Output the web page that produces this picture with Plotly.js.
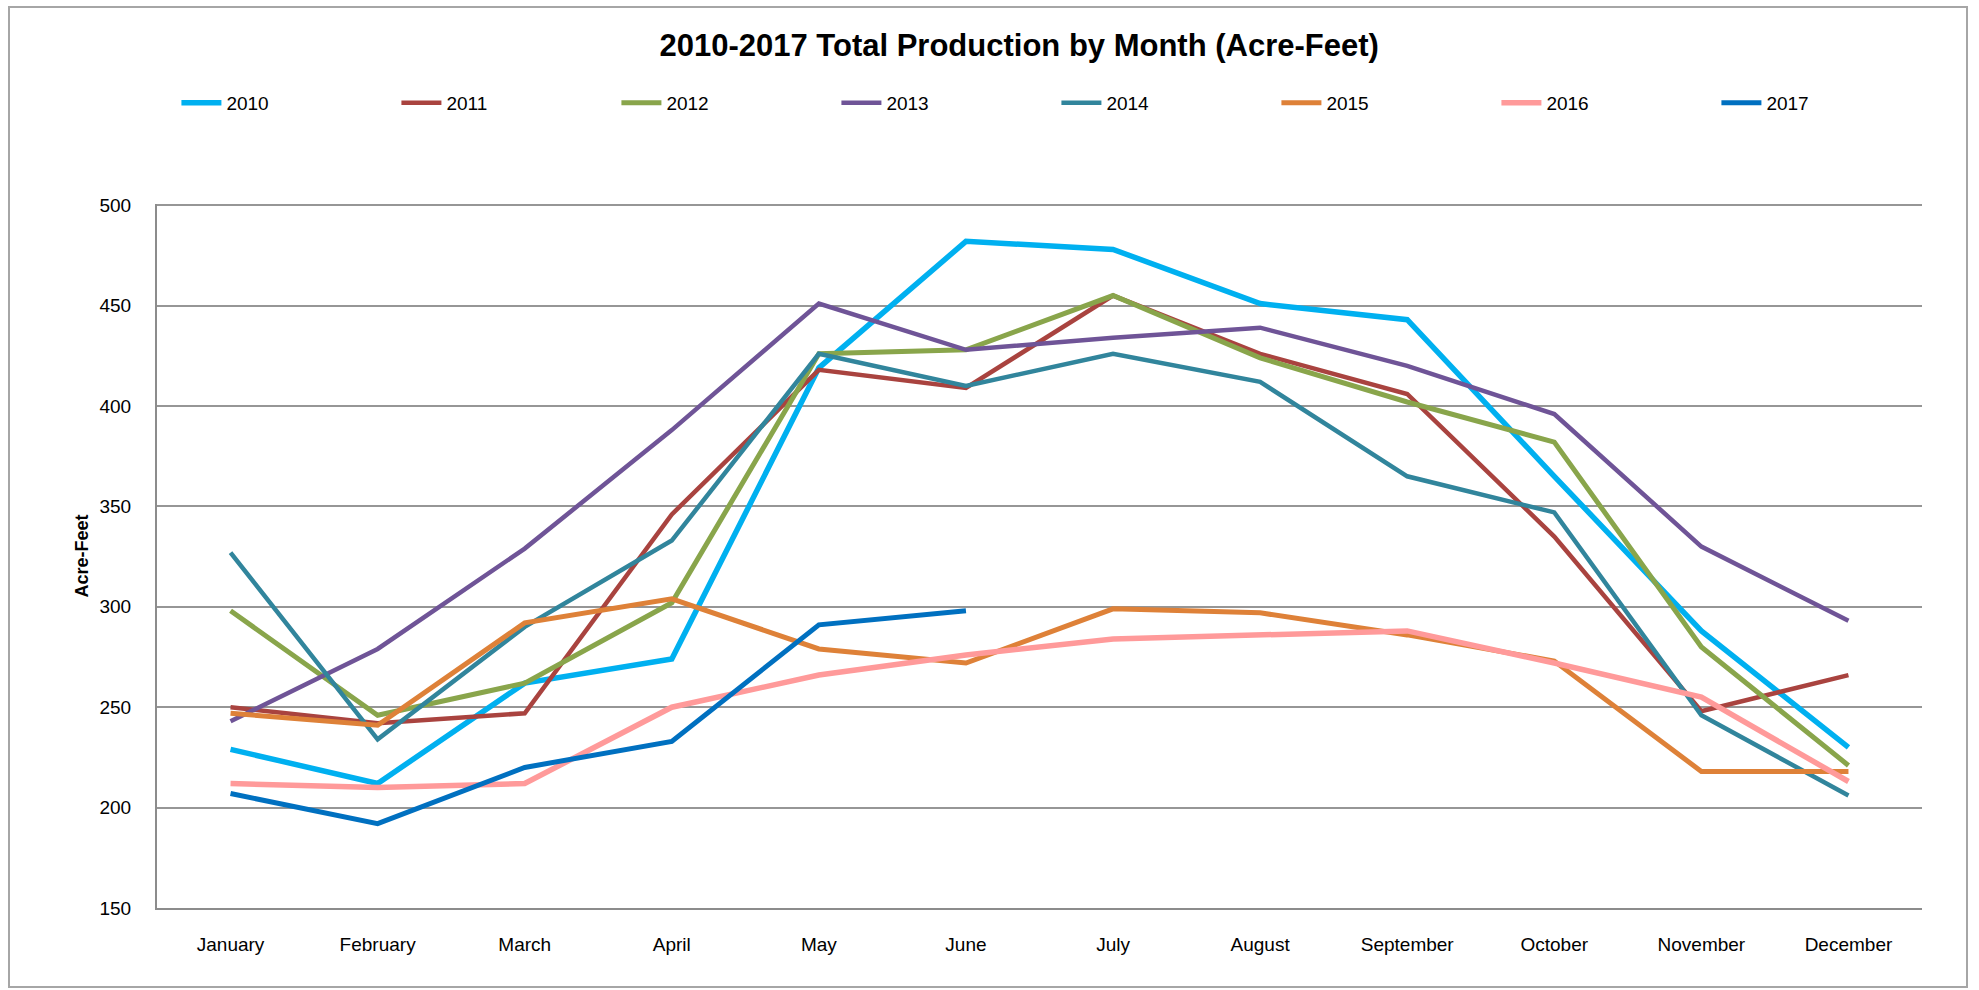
<!DOCTYPE html>
<html>
<head>
<meta charset="utf-8">
<script src="https://cdn.plot.ly/plotly-3.0.1.min.js"></script>
<style>
  body { margin: 0; background: #fff; }
  #chart { width: 1979px; height: 990px; }
  #frame { position: absolute; left: 8px; top: 6px; width: 1956px; height: 978px;
           border: 2px solid #a6a6a6; pointer-events: none; }
</style>
</head>
<body>
<div id="chart"></div>
<div id="frame"></div>
<script>
let months = ["January","February","March","April","May","June","July","August","September","October","November","December"];

let years = ["2010","2011","2012","2013","2014","2015","2016","2017"];
let colors = ["#00B0F0","#A9433F","#89A54B","#6F5497","#31859C","#DE8138","#FF9A9A","#0070C0"];
let widths = [5.5, 4.5, 5, 4.5, 4.5, 5, 5.5, 5];

let y2010 = [229, 212, 262, 274, 419, 482, 478, 451, 443, 365, 288, 230];
let y2011 = [250, 242, 247, 346, 418, 409, 455, 426, 406, 335, 248, 266];
let y2012 = [298, 246, 262, 302, 426, 428, 455, 424, 402, 382, 280, 221];
let y2013 = [243, 279, 329, 388, 451, 428, 434, 439, 420, 396, 330, 293];
let y2014 = [327, 234, 290, 333, 426, 410, 426, 412, 365, 347, 246, 206];
let y2015 = [247, 241, 292, 304, 279, 272, 299, 297, 286, 273, 218, 218];
let y2016 = [212, 210, 212, 250, 266, 276, 284, 286, 288, 272, 255, 213];
let y2017 = [207, 192, 220, 233, 291, 298];

let series = [y2010, y2011, y2012, y2013, y2014, y2015, y2016, y2017];

let traces = series.map(function(vals, i){
  return {
    x: months.slice(0, vals.length),
    y: vals,
    name: years[i],
    type: 'scatter',
    mode: 'lines',
    line: {color: colors[i], width: widths[i]}
  };
});

let layout = {
  width: 1979,
  height: 990,
  margin: {l: 157, r: 57, t: 204, b: 82},
  paper_bgcolor: '#fff',
  plot_bgcolor: '#fff',
  font: {family: 'Liberation Sans, Arial, sans-serif', color: '#000', size: 19},
  title: {
    text: '<b>2010-2017 Total Production by Month (Acre-Feet)</b>',
    font: {size: 31, color: '#000'},
    x: 0.515, xref: 'container', xanchor: 'center',
    y: 1 - 45/990, yref: 'container', yanchor: 'middle'
  },
  showlegend: true,
  legend: {
    orientation: 'h',
    x: 0.011, xanchor: 'left',
    y: 1 + (204 - 103)/704, yanchor: 'middle',
    entrywidth: 165, entrywidthmode: 'pixels',
    font: {size: 19},
    itemwidth: 40
  },
  xaxis: {
    type: 'category',
    range: [-0.5, 11.5],
    showgrid: false,
    showline: true,
    linecolor: '#8c8c8c',
    linewidth: 2,
    ticks: '',
    ticklabelstandoff: 18,
    tickfont: {size: 19},
    fixedrange: true
  },
  yaxis: {
    range: [150, 500.6],
    dtick: 50,
    tick0: 150,
    showgrid: true,
    gridcolor: '#969696',
    gridwidth: 2,
    showline: true,
    linecolor: '#8c8c8c',
    linewidth: 2,
    zeroline: false,
    ticks: '',
    ticklabelstandoff: 20,
    tickfont: {size: 19},
    title: {text: '<b>Acre-Feet</b>', font: {size: 18}, standoff: 6},
    fixedrange: true
  }
};

Plotly.newPlot('chart', traces, layout, {displayModeBar: false, staticPlot: true});
</script>
</body>
</html>
